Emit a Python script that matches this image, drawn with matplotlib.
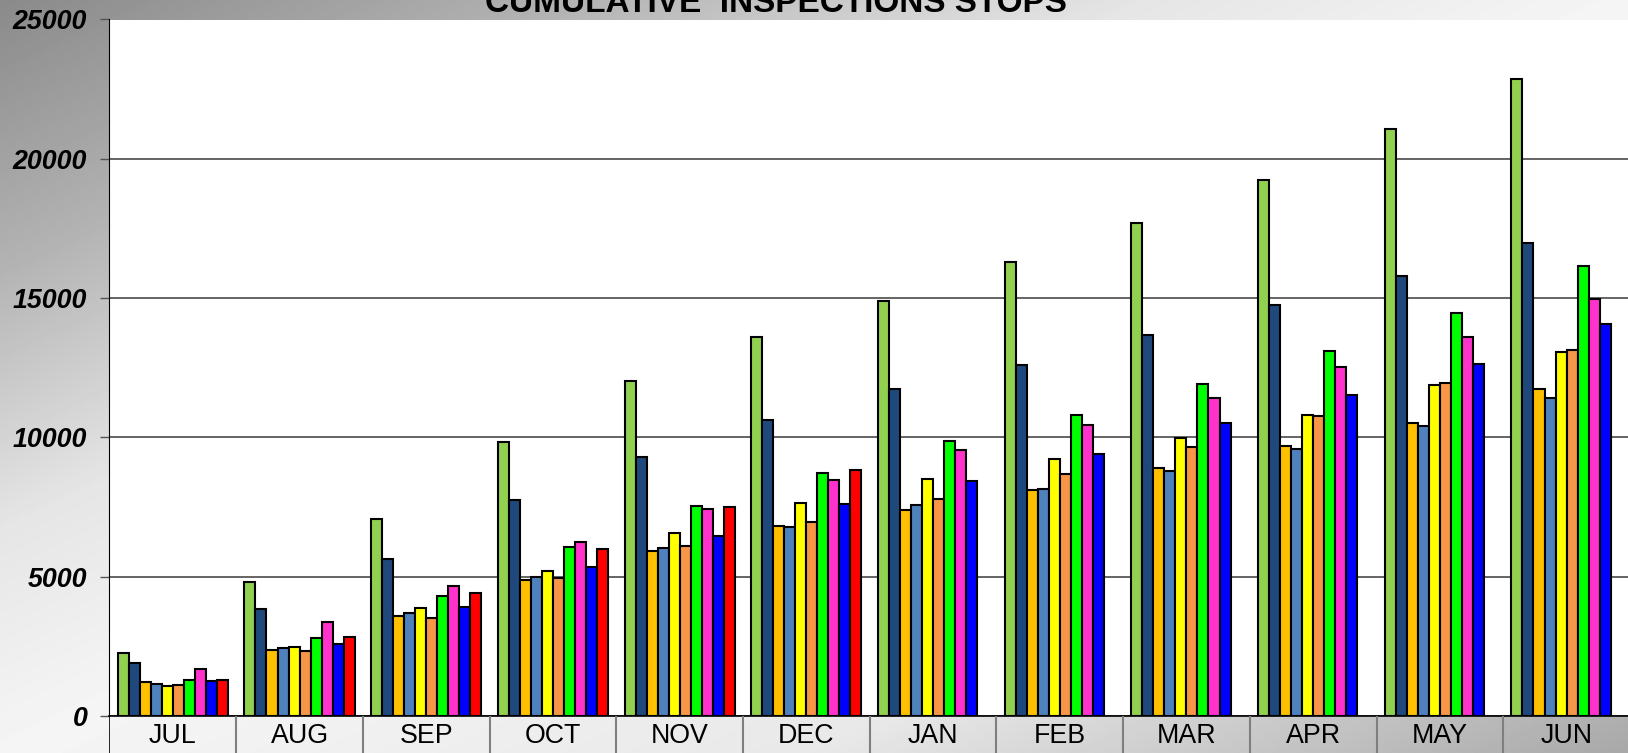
import numpy as np
import matplotlib
matplotlib.use('Agg')
import matplotlib.pyplot as plt

plt.rcParams['font.family'] = ['Liberation Sans', 'DejaVu Sans']

months = ['JUL', 'AUG', 'SEP', 'OCT', 'NOV', 'DEC',
          'JAN', 'FEB', 'MAR', 'APR', 'MAY', 'JUN']

# cumulative stops per month, one list per series (red stops after DEC)
s_lightgreen = [2270, 4810, 7080, 9830, 12040, 13620, 14900, 16290, 17690, 19250, 21070, 22860]
s_navy = [1890, 3830, 5620, 7740, 9300, 10630, 11740, 12610, 13690, 14740, 15800, 16960]
s_gold = [1230, 2380, 3590, 4880, 5930, 6810, 7410, 8120, 8910, 9680, 10510, 11740]
s_steel = [1150, 2430, 3710, 5000, 6030, 6790, 7570, 8140, 8800, 9590, 10420, 11420]
s_yellow = [1080, 2490, 3870, 5210, 6570, 7650, 8490, 9230, 9990, 10800, 11880, 13050]
s_orange = [1110, 2340, 3520, 4970, 6090, 6960, 7790, 8690, 9670, 10770, 11950, 13120]
s_lime = [1300, 2800, 4300, 6080, 7550, 8720, 9870, 10820, 11920, 13100, 14480, 16150]
s_magenta = [1700, 3380, 4660, 6250, 7440, 8480, 9530, 10450, 11410, 12510, 13600, 14960]
s_blue = [1270, 2570, 3920, 5340, 6460, 7600, 8430, 9410, 10510, 11530, 12620, 14060]
s_red = [1280, 2850, 4420, 5990, 7510, 8820]

series = [s_lightgreen, s_navy, s_gold, s_steel, s_yellow,
          s_orange, s_lime, s_magenta, s_blue, s_red]
colors = ['#92D050', '#1F497D', '#FFC000', '#4F81BD', '#FFFF00',
          '#F79646', '#00FF00', '#FF33CC', '#0000FF', '#FF0000']

W, H = 1628, 753
fig = plt.figure(figsize=(W / 100, H / 100), dpi=100)

# diagonal grey gradient behind everything
yy, xx = np.mgrid[0:H, 0:W]
s = xx / W + yy / H
shade = np.interp(s, [0, 0.35, 0.7, 1.0, 1.5, 2.0],
                  [138, 178, 229, 245, 232, 168]) / 255
bg = fig.add_axes([0, 0, 1, 1], zorder=-1)
bg.imshow(shade, cmap='gray', vmin=0, vmax=1, aspect='auto')
bg.axis('off')

left = 109.5 / W
width = 12 * 126.7 / W
bottom = 1 - 716 / H
top = 1 - 19.5 / H
ax = fig.add_axes([left, bottom, width, top - bottom], zorder=1)
ax.set_facecolor('white')

# clustered bars: 10 slots per month, gap of 1.5 bar widths
bw = 1 / 11.5
x0 = np.arange(len(months))
for j, (vals, c) in enumerate(zip(series, colors)):
    xs = x0[:len(vals)] + (0.75 + j + 0.5) * bw
    ax.bar(xs, vals, width=bw, color=c, edgecolor='black', linewidth=1.5, zorder=3)

ax.set_xlim(0, 12)
ax.set_ylim(0, 25000)
ax.set_yticks(range(0, 25001, 5000))
ax.set_yticklabels([str(v) for v in range(0, 25001, 5000)],
                   fontsize=19.3, fontweight='bold', fontstyle='italic')
ax.tick_params(axis='y', direction='out', length=6.5, width=1, color='#555555', pad=9.5)
ax.set_xticks([])
ax.yaxis.grid(True, color='#3a3a3a', lw=1.1)
ax.set_axisbelow(True)
for side in ['top', 'right']:
    ax.spines[side].set_visible(False)
ax.spines['left'].set_color('black')
ax.spines['bottom'].set_color('black')
ax.spines['bottom'].set_linewidth(1.2)

# month cells under the axis
cax = fig.add_axes([left, 0, width, bottom], zorder=1)
cax.set_xlim(0, 12)
cax.set_ylim(0, 1)
cax.axis('off')
cax.vlines(np.arange(1, 12), 0, 1, color='#7f7f7f', lw=1.5)
cax.vlines([0], 0, 1, color='black', lw=1.2)
for i, m in enumerate(months):
    cax.text(i + 0.5, 0.45, m, ha='center', va='center', fontsize=19.3)

fig.text(776 / W, 1 - 11.5 / H, 'CUMULATIVE  INSPECTIONS STOPS',
         ha='center', va='baseline', fontsize=24, fontweight='bold')

fig.savefig('out.png', dpi=100)
